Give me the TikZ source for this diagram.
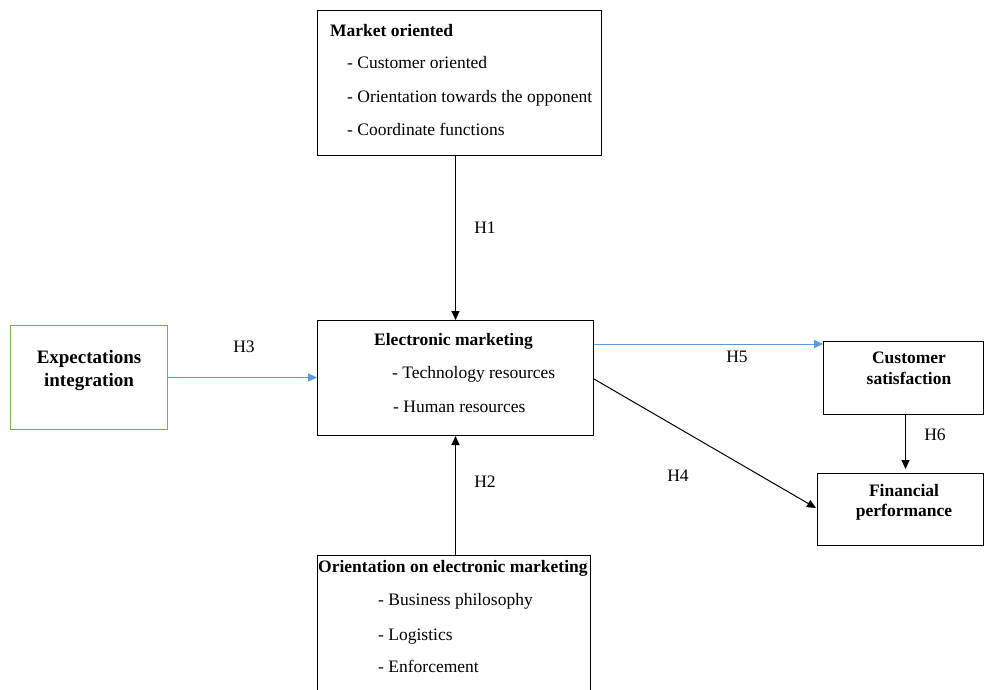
\documentclass[tikz,border=0pt]{standalone}
\usepackage{fontspec}
\setmainfont{Liberation Serif}
\usetikzlibrary{arrows.meta,calc}
\definecolor{arrowblue}{RGB}{91,155,213}
\definecolor{boxgreen}{RGB}{120,178,80}
\begin{document}
\begin{tikzpicture}[x=1pt,y=-1pt,
  font=\fontsize{17.5}{21}\selectfont,
  box/.style={draw, line width=1pt, inner sep=0pt, anchor=north west},
  txt/.style={anchor=base west, inner sep=0pt},
  btxt/.style={anchor=base west, inner sep=0pt, font=\fontsize{17.5}{21}\selectfont\bfseries},
  ctxt/.style={anchor=base, inner sep=0pt, font=\fontsize{17.5}{21}\selectfont\bfseries},
  lbl/.style={anchor=base, inner sep=0pt},
  arr/.style={line width=1pt, -{Triangle[length=9pt,width=8pt]}},
  barr/.style={arr, draw=arrowblue, arrowblue}]
\clip (0,0) rectangle (984,689);
\fill[white] (0,0) rectangle (984,689);
% boxes
\node[box, minimum width=284, minimum height=145] (mo) at (317,10) {};
\node[box, minimum width=276, minimum height=115] (em) at (317,320) {};
\node[box, draw=boxgreen, minimum width=157, minimum height=104] (ei) at (10,325) {};
\node[box, minimum width=160, minimum height=73] (cs) at (823,341) {};
\node[box, minimum width=166, minimum height=72] (fp) at (817,473) {};
\node[box, minimum width=273, minimum height=150] (oe) at (317,555) {};
% texts
\node[btxt] (mot) at (330,36) {Market oriented};
\node[txt] (mo1) at (347,68) {- Customer oriented};
\node[txt] (mo2) at (347,102) {- Orientation towards the opponent};
\node[txt] (mo3) at (347,135) {- Coordinate functions};
\node[btxt] (emt) at (374,345) {Electronic marketing};
\node[txt] (em1) at (392,378) {- Technology resources};
\node[txt] (em2) at (393,412) {- Human resources};
\node[ctxt, font=\fontsize{19}{23}\selectfont\bfseries] (ei1) at (89,363) {Expectations};
\node[ctxt, font=\fontsize{19}{23}\selectfont\bfseries] (ei2) at (89,386) {integration};
\node[ctxt] (cs1) at (909,363) {Customer};
\node[ctxt] (cs2) at (909,384) {satisfaction};
\node[ctxt] (fp1) at (904,496) {Financial};
\node[ctxt] (fp2) at (904,516) {performance};
\node[btxt] (oet) at (318,572) {Orientation on electronic marketing};
\node[txt] (oe1) at (378,605) {- Business philosophy};
\node[txt] (oe2) at (378,640) {- Logistics};
\node[txt] (oe3) at (378,672) {- Enforcement};
% connectors
\draw[arr] (mo.south -| em.north) -- (em.north);
\draw[arr] (oe.north -| em.south) -- (em.south);
\draw[barr] (ei.east) -- (ei.east -| em.west);
\coordinate (h5s) at ($(em.north east)+(0,24)$);
\draw[barr] (h5s) -- (h5s -| cs.west);
\coordinate (h4s) at ($(em.north east)+(0,59)$);
\coordinate (h4e) at ($(fp.north west)+(-1,35)$);
\draw[arr] (h4s) -- (h4e);
\coordinate (h6e) at ($(cs.south)+(2,54)$);
\draw[arr] (cs.south -| h6e) -- (h6e);
% labels
\node[lbl] (l1) at (485,233) {H1};
\node[lbl] (l2) at (485,487) {H2};
\node[lbl] (l3) at (244,352) {H3};
\node[lbl] (l4) at (678,481) {H4};
\node[lbl] (l5) at (737,362) {H5};
\node[lbl] (l6) at (935,440) {H6};
\end{tikzpicture}
\end{document}
